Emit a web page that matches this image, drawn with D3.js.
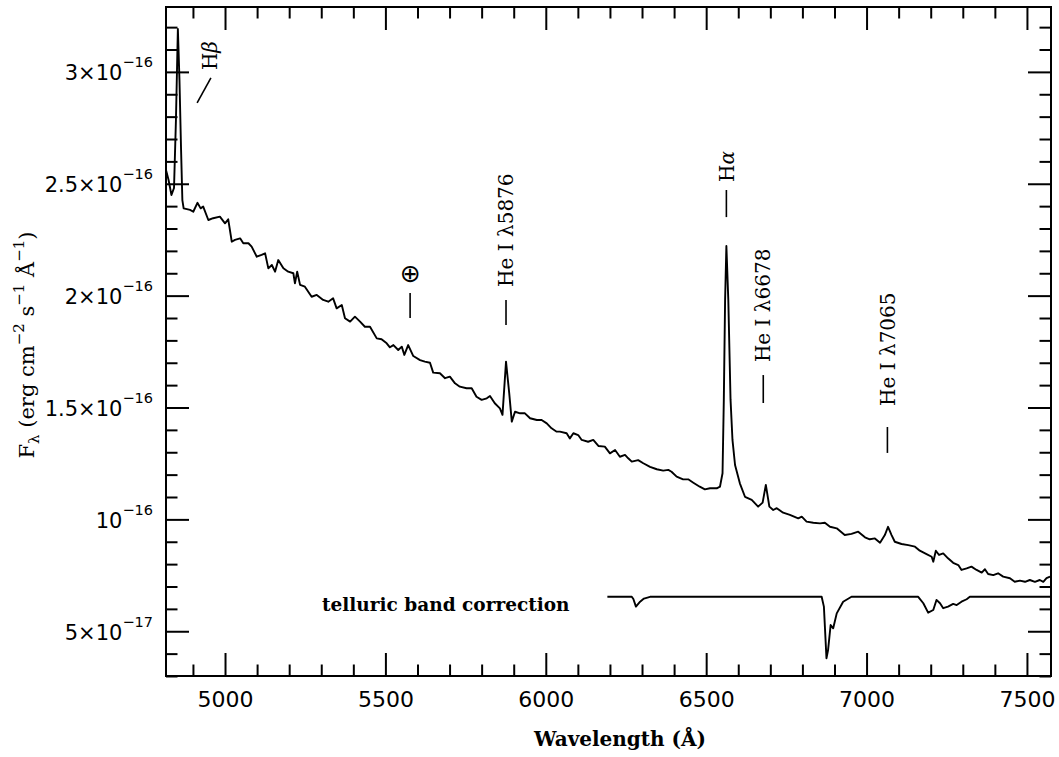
<!DOCTYPE html>
<html>
<head>
<meta charset="utf-8">
<script src="https://cdn.jsdelivr.net/npm/d3@7"></script>
<style>
  body { margin: 0; background: #fff; }
  svg { display: block; }
</style>
</head>
<body>
<svg id="chart" width="1059" height="757"></svg>
<script>
// Observed spectrum: wavelength (Å) and F_lambda in units of 1e-16 erg cm^-2 s^-1 Å^-1
const wavelength = [
  4816, 4824, 4833, 4841, 4847, 4853, 4858, 4863, 4867, 4871,
  4891, 4901, 4914, 4924, 4932, 4948, 4963, 4984, 5000, 5010,
  5021, 5031, 5047, 5057, 5073, 5083, 5099, 5114, 5125, 5135,
  5146, 5156, 5166, 5182, 5197, 5213, 5218, 5225, 5234, 5249,
  5270, 5286, 5306, 5322, 5337, 5348, 5364, 5374, 5390, 5405,
  5421, 5436, 5452, 5473, 5488, 5504, 5514, 5525, 5540, 5551,
  5559, 5571, 5587, 5608, 5623, 5639, 5649, 5670, 5686, 5701,
  5717, 5732, 5753, 5769, 5784, 5800, 5816, 5826, 5841, 5857,
  5865, 5876, 5886, 5894, 5904, 5920, 5935, 5951, 5972, 5987,
  6003, 6018, 6034, 6044, 6065, 6075, 6086, 6101, 6112, 6132,
  6148, 6164, 6184, 6200, 6216, 6231, 6247, 6257, 6268, 6288,
  6304, 6325, 6346, 6366, 6382, 6392, 6408, 6428, 6444, 6460,
  6480, 6496, 6512, 6533, 6543, 6551, 6555, 6559, 6563, 6569,
  6576, 6582, 6590, 6605, 6621, 6642, 6662, 6676, 6686, 6697,
  6709, 6720, 6740, 6761, 6787, 6798, 6813, 6834, 6855, 6870,
  6886, 6907, 6932, 6953, 6974, 6995, 7010, 7026, 7042, 7057,
  7067, 7078, 7088, 7109, 7130, 7151, 7166, 7187, 7203, 7208,
  7216, 7226, 7239, 7254, 7270, 7286, 7296, 7312, 7327, 7343,
  7359, 7369, 7379, 7395, 7410, 7426, 7447, 7462, 7478, 7494,
  7509, 7525, 7540, 7551, 7561, 7572
];
const flux = [
  2.562, 2.517, 2.450, 2.481, 2.785, 3.192, 2.964, 2.651, 2.427, 2.390,
  2.383, 2.375, 2.415, 2.390, 2.398, 2.338, 2.346, 2.353, 2.323, 2.341,
  2.241, 2.249, 2.256, 2.234, 2.234, 2.219, 2.174, 2.182, 2.189, 2.122,
  2.137, 2.107, 2.159, 2.122, 2.107, 2.100, 2.055, 2.107, 2.048, 2.040,
  1.995, 2.003, 1.981, 1.973, 1.988, 1.943, 1.958, 1.899, 1.884, 1.906,
  1.884, 1.861, 1.861, 1.809, 1.805, 1.787, 1.769, 1.779, 1.757, 1.772,
  1.735, 1.779, 1.730, 1.712, 1.705, 1.700, 1.656, 1.653, 1.631, 1.638,
  1.608, 1.593, 1.586, 1.586, 1.548, 1.534, 1.541, 1.551, 1.519, 1.496,
  1.467, 1.705, 1.564, 1.437, 1.481, 1.474, 1.474, 1.452, 1.444, 1.444,
  1.429, 1.407, 1.392, 1.392, 1.385, 1.362, 1.385, 1.377, 1.355, 1.347,
  1.355, 1.328, 1.325, 1.295, 1.310, 1.280, 1.288, 1.273, 1.258, 1.265,
  1.251, 1.235, 1.224, 1.218, 1.221, 1.213, 1.191, 1.179, 1.179, 1.164,
  1.146, 1.134, 1.139, 1.139, 1.146, 1.206, 1.534, 1.981, 2.222, 1.981,
  1.534, 1.355, 1.243, 1.161, 1.101, 1.087, 1.057, 1.075, 1.154, 1.057,
  1.042, 1.050, 1.030, 1.020, 1.005, 1.012, 0.990, 0.985, 0.982, 0.985,
  0.967, 0.960, 0.930, 0.935, 0.945, 0.920, 0.911, 0.915, 0.896, 0.930,
  0.967, 0.930, 0.900, 0.890, 0.885, 0.878, 0.860, 0.845, 0.833, 0.811,
  0.860, 0.841, 0.848, 0.826, 0.806, 0.796, 0.774, 0.781, 0.789, 0.774,
  0.762, 0.777, 0.756, 0.751, 0.759, 0.744, 0.737, 0.721, 0.726, 0.721,
  0.729, 0.721, 0.729, 0.721, 0.737, 0.744
];

// Telluric band correction curve (same flux units, offset below the spectrum)
const telluricWave = [
  6192, 6268, 6273, 6281, 6294, 6306, 6325, 6860, 6867, 6875,
  6880, 6888, 6896, 6907, 6927, 6953, 7161, 7177, 7192, 7208,
  7218, 7229, 7239, 7254, 7270, 7281, 7296, 7312, 7322, 7575
];
const telluricFlux = [
  0.654, 0.654, 0.644, 0.610, 0.632, 0.646, 0.654, 0.654, 0.610, 0.379,
  0.416, 0.528, 0.513, 0.580, 0.632, 0.654, 0.654, 0.625, 0.583, 0.595,
  0.640, 0.625, 0.603, 0.610, 0.622, 0.617, 0.632, 0.643, 0.654, 0.654
];

// Axis ticks
const xMajorTicks = [5000, 5500, 6000, 6500, 7000, 7500];
const xMinorTicks = [4900, 5100, 5200, 5300, 5400, 5600, 5700, 5800, 5900, 6100, 6200, 6300, 6400,
                     6600, 6700, 6800, 6900, 7100, 7200, 7300, 7400];
const yMajorTicks = [0.5, 1, 1.5, 2, 2.5, 3];
const yTickMantissa = ["5×10", "10", "1.5×10", "2×10", "2.5×10", "3×10"];
const yTickExponent = ["−17", "−16", "−16", "−16", "−16", "−16"];
const yMinorTicks = [0.3, 0.4, 0.6, 0.7, 0.8, 0.9, 1.1, 1.2, 1.3, 1.4, 1.6, 1.7, 1.8, 1.9,
                     2.1, 2.2, 2.3, 2.4, 2.6, 2.7, 2.8, 2.9, 3.1, 3.2];

// Line identifications: rest wavelength, marker bar (flux low/high), label start (flux)
const featureName     = ["He I λ5876", "Hα", "He I λ6678", "He I λ7065"];
const featureWave     = [5876, 6563, 6678, 7065];
const featureBarLow   = [1.869, 2.351, 1.520, 1.297];
const featureBarHigh  = [1.981, 2.472, 1.645, 1.413];
const featureTextFrom = [2.039, 2.508, 1.703, 1.507];

// Night-sky [O I] 5577 marker
const skyWave = 5577;
const skyBar = [1.900, 2.012];
const skySymbolAt = 2.101;

// H-beta marker: slanted bar endpoints [wavelength, flux] and label anchor
const hbetaBar = [[4913, 2.861], [4956, 2.973]];
const hbetaText = [4953, 3.008];

const svg = d3.select("#chart");
const ink = "#000";

const x = d3.scaleLinear().domain([4816, 7575]).range([166, 1051]);
const y = d3.scaleLinear().domain([0.3, 3.29]).range([676, 7]);

const tickFont = "'DejaVu Sans', sans-serif";
const serifFont = "'DejaVu Serif', serif";

function styleAxis(g) {
  g.select(".domain").remove();
  g.selectAll(".tick line").attr("stroke", ink).attr("stroke-width", 2);
  g.attr("font-family", tickFont).attr("font-size", 22);
  g.selectAll(".tick text").attr("fill", ink);
}

// Bottom axis: labelled majors + minors (ticks point inward)
svg.append("g").attr("transform", "translate(0,676)")
  .call(d3.axisBottom(x).tickValues(xMajorTicks).tickSize(-23).tickSizeOuter(0)
        .tickPadding(15).tickFormat(d3.format("d")))
  .call(styleAxis);
svg.append("g").attr("transform", "translate(0,676)")
  .call(d3.axisBottom(x).tickValues(xMinorTicks).tickSize(-11.5).tickSizeOuter(0).tickFormat(""))
  .call(styleAxis);

// Top axis: ticks only
svg.append("g").attr("transform", "translate(0,7)")
  .call(d3.axisTop(x).tickValues(xMajorTicks).tickSize(-23).tickSizeOuter(0).tickFormat(""))
  .call(styleAxis);
svg.append("g").attr("transform", "translate(0,7)")
  .call(d3.axisTop(x).tickValues(xMinorTicks).tickSize(-11.5).tickSizeOuter(0).tickFormat(""))
  .call(styleAxis);

// Left axis with scientific-notation labels
const leftAxis = svg.append("g").attr("transform", "translate(166,0)")
  .call(d3.axisLeft(y).tickValues(yMajorTicks).tickSize(-23).tickSizeOuter(0)
        .tickPadding(13).tickFormat(""))
  .call(styleAxis);
leftAxis.attr("font-size", 21);
leftAxis.selectAll(".tick text").each(function (d, i) {
  const t = d3.select(this);
  t.text(null).attr("dy", "0.38em");
  t.append("tspan").text(yTickMantissa[i]);
  t.append("tspan").attr("dy", -13).attr("font-size", 14.5).text(yTickExponent[i]);
});
svg.append("g").attr("transform", "translate(166,0)")
  .call(d3.axisLeft(y).tickValues(yMinorTicks).tickSize(-11.5).tickSizeOuter(0).tickFormat(""))
  .call(styleAxis);

// Right axis: ticks only
svg.append("g").attr("transform", "translate(1051,0)")
  .call(d3.axisRight(y).tickValues(yMajorTicks).tickSize(-23).tickSizeOuter(0).tickFormat(""))
  .call(styleAxis);
svg.append("g").attr("transform", "translate(1051,0)")
  .call(d3.axisRight(y).tickValues(yMinorTicks).tickSize(-11.5).tickSizeOuter(0).tickFormat(""))
  .call(styleAxis);

// Plot frame
svg.append("rect")
  .attr("x", x.range()[0]).attr("y", y.range()[1])
  .attr("width", x.range()[1] - x.range()[0])
  .attr("height", y.range()[0] - y.range()[1])
  .attr("fill", "none").attr("stroke", ink).attr("stroke-width", 2);

// Spectrum
const line = d3.line().x(d => x(d[0])).y(d => y(d[1]));
svg.append("path")
  .datum(d3.zip(wavelength, flux))
  .attr("d", line)
  .attr("fill", "none").attr("stroke", ink)
  .attr("stroke-width", 1.9).attr("stroke-linejoin", "round");

// Telluric correction curve
svg.append("path")
  .datum(d3.zip(telluricWave, telluricFlux))
  .attr("d", line)
  .attr("fill", "none").attr("stroke", ink)
  .attr("stroke-width", 1.9).attr("stroke-linejoin", "round");

svg.append("text")
  .attr("x", 322).attr("y", y(telluricFlux[0]) + 14)
  .attr("font-family", serifFont).attr("font-weight", "bold").attr("font-size", 18.5)
  .attr("fill", ink)
  .text("telluric band correction");

// Line identification markers
const labelSize = 20;
function addRotatedLabel(cx, yStart, name) {
  const t = svg.append("text")
    .attr("transform", `translate(${cx + 0.36 * labelSize},${yStart}) rotate(-90)`)
    .attr("font-family", serifFont).attr("font-size", labelSize).attr("fill", ink);
  const m = name.match(/^(.*?)([αβ])$/);
  if (m) {
    t.append("tspan").text(m[1]);
    t.append("tspan").attr("font-style", "italic").text(m[2]);
  } else {
    t.text(name);
  }
}

featureName.forEach((name, i) => {
  const cx = x(featureWave[i]);
  svg.append("line")
    .attr("x1", cx).attr("x2", cx)
    .attr("y1", y(featureBarLow[i])).attr("y2", y(featureBarHigh[i]))
    .attr("stroke", ink).attr("stroke-width", 1.6);
  addRotatedLabel(cx, y(featureTextFrom[i]), name);
});

// Sky line marker
svg.append("line")
  .attr("x1", x(skyWave)).attr("x2", x(skyWave))
  .attr("y1", y(skyBar[0])).attr("y2", y(skyBar[1]))
  .attr("stroke", ink).attr("stroke-width", 1.6);
svg.append("text")
  .attr("x", x(skyWave)).attr("y", y(skySymbolAt))
  .attr("text-anchor", "middle").attr("dominant-baseline", "central")
  .attr("font-family", tickFont).attr("font-size", 25).attr("fill", ink)
  .text("⊕");

// H-beta marker
svg.append("line")
  .attr("x1", x(hbetaBar[0][0])).attr("y1", y(hbetaBar[0][1]))
  .attr("x2", x(hbetaBar[1][0])).attr("y2", y(hbetaBar[1][1]))
  .attr("stroke", ink).attr("stroke-width", 1.6);
addRotatedLabel(x(hbetaText[0]), y(hbetaText[1]), "Hβ");

// Axis titles
svg.append("text")
  .attr("x", 620).attr("y", 746)
  .attr("text-anchor", "middle")
  .attr("font-family", serifFont).attr("font-weight", "bold").attr("font-size", 20)
  .attr("fill", ink)
  .text("Wavelength (Å)");

const yTitle = svg.append("text")
  .attr("transform", "translate(34,345) rotate(-90)")
  .attr("text-anchor", "middle")
  .attr("font-family", serifFont).attr("font-size", 21).attr("fill", ink);
yTitle.append("tspan").text("F");
yTitle.append("tspan").attr("dy", 5).attr("font-size", 15).text("λ");
yTitle.append("tspan").attr("dy", -5).text(" (erg cm");
yTitle.append("tspan").attr("dy", -10).attr("font-size", 15).text("−2");
yTitle.append("tspan").attr("dy", 10).text(" s");
yTitle.append("tspan").attr("dy", -10).attr("font-size", 15).text("−1");
yTitle.append("tspan").attr("dy", 10).text(" Å");
yTitle.append("tspan").attr("dy", -10).attr("font-size", 15).text("−1");
yTitle.append("tspan").attr("dy", 10).text(")");
</script>
</body>
</html>
